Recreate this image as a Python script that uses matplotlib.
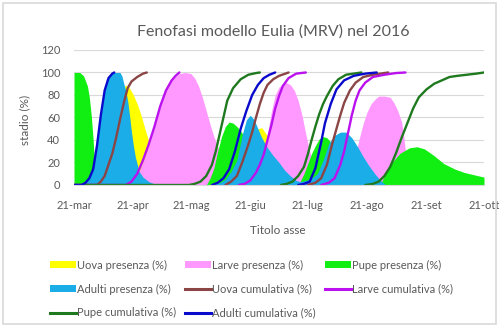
import numpy as np
import matplotlib
matplotlib.use("Agg")
import matplotlib.pyplot as plt
from matplotlib.patches import Patch, Rectangle
from matplotlib.lines import Line2D

plt.rcParams['font.family'] = ['Lato', 'DejaVu Sans']

nan = np.nan

# x axis: days after 21 March 2016
tick_days = [0, 31, 61, 92, 122, 153, 184, 214]
tick_labels = ['21-mar', '21-apr', '21-mag', '21-giu', '21-lug', '21-ago', '21-set', '21-ott']

# presence areas (%)
uova_pres_d = [0, 8, 12, 16, 20, 23, 25, 27, 29, 31, 33, 35, 37, 39, 41, 43, 46, 50, 54,
               80, 84, 88, 91, 94, 96, 98, 100, 103, 106, 110, 114, 118, 121,
               125, 130, 135, 140, 145, 150, 155, 160, 164, 214]
uova_pres = [0, 0, 5, 18, 45, 70, 84, 89, 86, 80, 72, 62, 50, 39, 28, 18, 8, 2, 0,
             0, 5, 15, 30, 45, 50, 51, 46, 38, 28, 15, 6, 2, 0,
             0, 5, 15, 25, 25, 18, 8, 2, 0, 0]

larve_pres_d = [0, 28, 31, 34, 37, 40, 43, 46, 49, 52, 55, 58, 61, 63, 65, 67, 69, 71, 73, 75,
                77, 79, 81, 84, 88, 92, 95, 97, 99, 101, 103, 105, 107, 109, 111, 113, 115,
                117, 119, 121, 123, 125, 127, 130, 133, 139, 142, 145, 147, 149, 151, 153,
                155, 157, 159, 162, 165, 167, 169, 171, 172, 173, 174, 176, 178, 214]
larve_pres = [0, 0, 3, 12, 25, 40, 58, 75, 88, 95, 99, 100, 99, 95, 88, 78, 66, 54, 43, 34,
              26, 18, 11, 5, 1, 0, 5, 12, 25, 45, 65, 80, 87, 90, 91, 89, 84,
              75, 62, 45, 30, 18, 9, 3, 0, 0, 5, 16, 28, 42, 55, 65,
              72, 76, 79, 79, 78, 73, 66, 56, 45, 30, 18, 6, 0, 0]

pupe_pres_d = [0, 3, 5, 7, 8, 9, 10, 10.5, 11, 12, 69, 71, 73, 75, 77, 79, 81, 83, 85, 87,
               90, 93, 96, 100, 104, 108, 112, 116, 118, 120, 122, 124, 126, 128, 130, 132,
               134, 137, 140, 145, 150, 155, 160, 162, 165, 170, 175, 179, 183, 188, 193,
               199, 204, 209, 214]
pupe_pres = [100, 100, 97, 88, 78, 62, 40, 25, 10, 0, 0, 6, 15, 30, 43, 52, 56, 55, 52, 48,
             40, 30, 20, 10, 4, 1, 0, 0, 3, 10, 19, 28, 35, 41, 43, 42,
             38, 32, 25, 15, 8, 3, 1, 8, 18, 28, 33, 34, 32, 26, 19,
             14, 11, 9, 7]

adulti_pres_d = [0, 4, 6, 8, 10, 12, 14, 16, 18, 20, 24, 25, 26, 27, 28, 29, 30, 31, 32, 34,
                 36, 39, 42, 45, 72, 76, 79, 82, 85, 87, 88, 90, 92, 94, 96, 98, 101, 104,
                 107, 110, 113, 116, 118, 121, 124, 127, 130, 133, 136, 139, 142, 145, 148,
                 151, 154, 157, 160, 162, 163, 214]
adulti_pres = [0, 0, 2, 6, 14, 35, 62, 84, 96, 100, 100, 97, 90, 84, 75, 62, 47, 35, 25, 12,
               7, 3, 1, 0, 0, 2, 5, 12, 22, 38, 46, 58, 62, 58, 50, 42, 33, 26,
               20, 13, 8, 4, 3, 4, 6, 10, 22, 37, 44, 47, 47, 42, 34,
               25, 17, 10, 4, 1, 0, 0]

# cumulative curves (%), nan separates generations
uova_cum_d = [0, 12, 14, 16, 18, 20, 22, 24, 26, 28, 30, 33, 36, 38, 60,
              79, 82, 85, 88, 91, 93, 95, 97, 99, 101, 104, 107, 112, 118,
              122, 126, 129, 132, 135, 137, 139, 141, 144, 147, 151, 156, 164]
uova_cum = [0, 0, 3, 8, 18, 28, 42, 58, 73, 86, 92, 96, 99, 100, nan,
            0, 3, 8, 21, 36, 47, 60, 72, 82, 89, 94, 97, 100, nan,
            0, 2, 6, 18, 38, 50, 62, 73, 84, 91, 96, 98, 100]

larve_cum_d = [0, 27, 30, 33, 36, 39, 42, 45, 48, 51, 53, 55, 70,
               86, 89, 92, 95, 97, 99, 101, 103, 105, 107, 109, 112, 116, 121, 125,
               129, 133, 136, 139, 141, 143, 145, 147, 149, 152, 156, 162, 168, 173]
larve_cum = [0, 0, 3, 10, 22, 36, 52, 70, 84, 93, 97, 100, nan,
             0, 1, 4, 11, 18, 27, 40, 53, 68, 79, 88, 95, 99, 100, nan,
             0, 2, 6, 18, 30, 46, 62, 75, 84, 91, 96, 98, 99.5, 100]

pupe_cum_d = [0, 60, 63, 66, 69, 72, 74, 76, 78, 80, 83, 87, 91, 95, 97, 102,
              108, 111, 114, 117, 120, 122, 124, 126, 128, 130, 132, 135, 138, 142, 146, 150, 151,
              152, 156, 159, 162, 165, 168, 171, 174, 177, 180, 184, 188, 192, 196, 200, 205, 210, 214]
pupe_cum = [0, 0, 1, 3, 8, 18, 30, 45, 60, 75, 86, 94, 98, 99.5, 100, nan,
            0, 1, 3, 8, 16, 27, 40, 52, 63, 72, 79, 88, 94, 98, 99, 100, nan,
            0, 1, 3, 8, 16, 28, 42, 55, 68, 78, 85, 90, 93, 96, 97, 98, 99, 100]

adulti_cum_d = [0, 4, 6, 8, 10, 12, 14, 16, 18, 20, 21, 40,
                72, 75, 78, 81, 84, 87, 90, 93, 96, 99, 102, 105, 110,
                117, 120, 123, 126, 129, 131, 134, 137, 141, 146, 152, 158]
adulti_cum = [0, 0, 2, 6, 14, 35, 62, 84, 95, 99, 100, nan,
              0, 2, 6, 14, 30, 50, 66, 80, 89, 95, 98, 100, nan,
              0, 1, 3, 15, 38, 55, 72, 85, 93, 97, 99, 100]

areas = [
    (uova_pres_d, uova_pres, '#FFFF00', 'Uova presenza (%)'),
    (larve_pres_d, larve_pres, '#FF99FF', 'Larve presenza (%)'),
    (pupe_pres_d, pupe_pres, '#11EE11', 'Pupe presenza (%)'),
    (adulti_pres_d, adulti_pres, '#1AADE8', 'Adulti presenza (%)'),
]
lines = [
    (uova_cum_d, uova_cum, '#8B4545', 'Uova cumulativa (%)'),
    (larve_cum_d, larve_cum, '#BB11EE', 'Larve cumulativa (%)'),
    (pupe_cum_d, pupe_cum, '#1F7A1F', 'Pupe cumulativa (%)'),
    (adulti_cum_d, adulti_cum, '#0A0ACC', 'Adulti cumulativa (%)'),
]

text_col = '#595959'

fig = plt.figure(figsize=(5, 3.28), dpi=100)
fig.patches.append(Rectangle((0.006, 0.012), 0.986, 0.978, transform=fig.transFigure,
                             fill=False, edgecolor='#D9D9D9', linewidth=1.2))
ax = fig.add_axes([0.148, 0.436, 0.82, 0.4116])

for d, v, c, lab in areas:
    ax.fill_between(d, 0, v, color=c, linewidth=0)
for d, v, c, lab in lines:
    ax.plot(d, v, color=c, linewidth=1.7, solid_capstyle='round')

ax.set_xlim(0, 214)
ax.set_ylim(0, 120)
ax.set_yticks(range(0, 121, 20))
ax.set_xticks(tick_days)
ax.set_xticklabels(tick_labels)
ax.grid(axis='y', color='#D9D9D9', linewidth=0.8)
ax.set_axisbelow(True)
for s in ['top', 'right', 'left']:
    ax.spines[s].set_visible(False)
ax.spines['bottom'].set_color('#D9D9D9')
ax.tick_params(axis='y', length=0, pad=10, labelsize=8, labelcolor=text_col)
ax.tick_params(axis='x', length=0, pad=11, labelsize=8, labelcolor=text_col)

fig.text(0.547, 0.905, 'Fenofasi modello Eulia (MRV) nel 2016', ha='center', va='center',
         fontsize=11.5, color=text_col)
fig.text(0.05, 0.634, 'stadio (%)', rotation=90, ha='center', va='center',
         fontsize=8.5, color=text_col)
fig.text(0.556, 0.297, 'Titolo asse', ha='center', va='center', fontsize=8.5, color=text_col)

# legend, Excel puts it row by row
handles = {lab: Patch(facecolor=c, edgecolor='none') for d, v, c, lab in areas}
handles.update({lab: Line2D([], [], color=c, linewidth=2.2) for d, v, c, lab in lines})
order = ['Uova presenza (%)', 'Adulti presenza (%)', 'Pupe cumulativa (%)',
         'Larve presenza (%)', 'Uova cumulativa (%)', 'Adulti cumulativa (%)',
         'Pupe presenza (%)', 'Larve cumulativa (%)']
leg = fig.legend([handles[k] for k in order], order, loc='upper left',
                 bbox_to_anchor=(0.1, 0.208), ncol=3, frameon=False, fontsize=8,
                 handlelength=2.3, handleheight=0.6, handletextpad=0.15,
                 columnspacing=0.8, labelspacing=1.15, borderpad=0, borderaxespad=0)
for t in leg.get_texts():
    t.set_color(text_col)

fig.savefig('out.png', dpi=100)
